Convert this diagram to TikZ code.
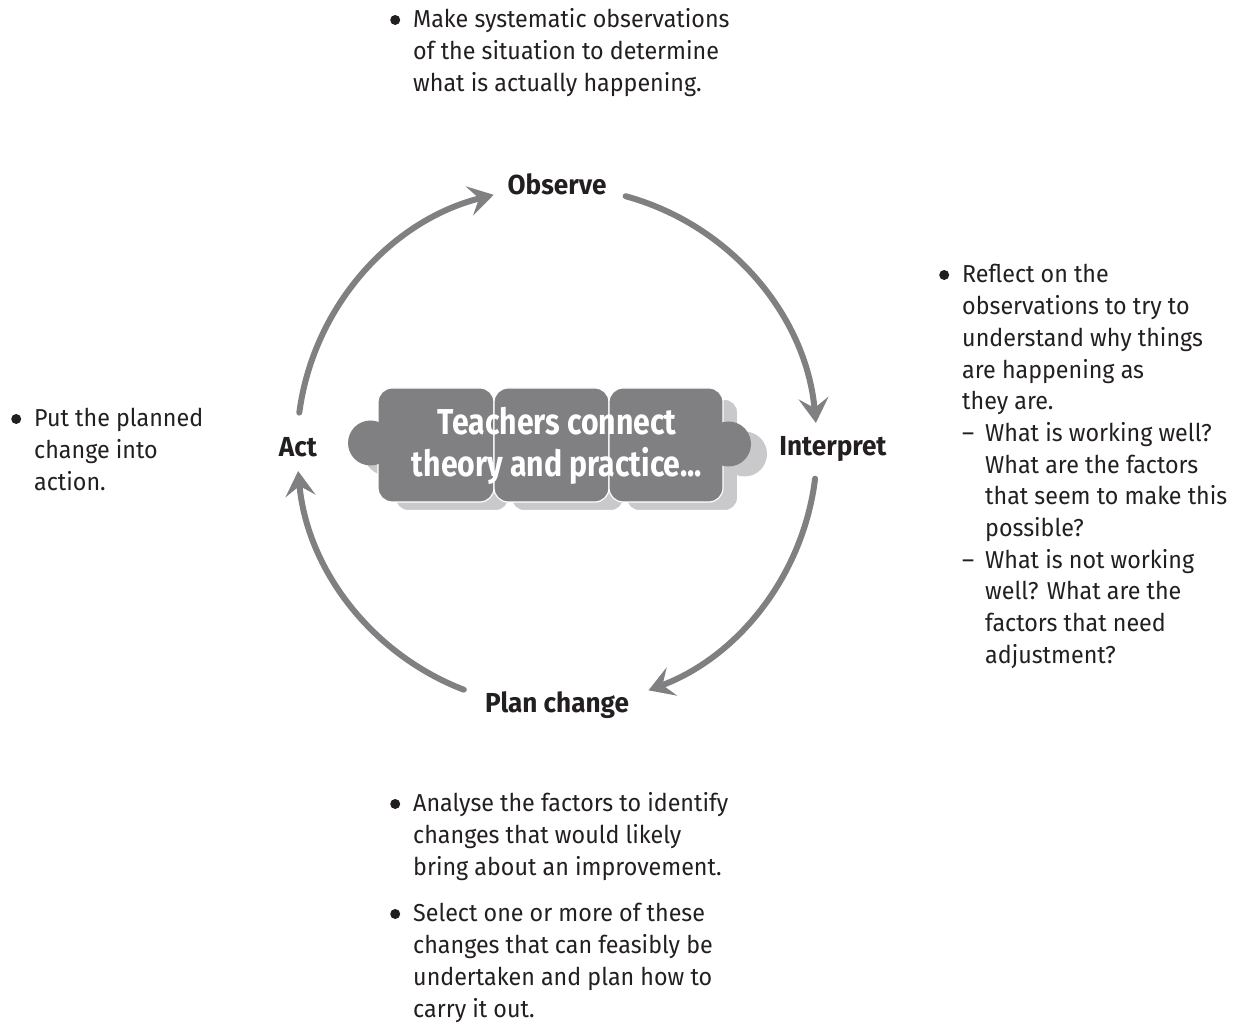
\documentclass[tikz,border=0pt]{standalone}
\usepackage{fontspec}
\setmainfont{Fira Sans}[FakeStretch=0.95]
\newfontfamily\mottofont{Fira Sans}[FakeStretch=0.84]
\usetikzlibrary{arrows.meta}

\definecolor{cyclegray}{RGB}{128,128,131}
\definecolor{shadowgray}{RGB}{201,201,203}
\definecolor{inkblack}{RGB}{35,31,32}

% round bullet hanging to the left of the text column, and a dash item
\newcommand\bul{\leavevmode\llap{\tikz[baseline=0pt]\fill[inkblack] (0pt,8pt) circle (5pt);\hspace{13pt}}}
\newcommand\dashitem{\makebox[23pt][l]{–}}
\newcommand\subind{\hspace*{23pt}}

\begin{document}
\begin{tikzpicture}[x=1pt,y=1pt,
  cyclearrow/.style={draw=cyclegray, line width=6pt, line cap=round,
    -{Stealth[length=25pt,width=30pt,inset=10pt]}},
  phase/.style={font=\fontsize{27.5}{30}\selectfont\bfseries, text=inkblack,
    inner sep=0pt, anchor=base},
  note/.style={font=\fontsize{24.5}{31.7}\selectfont, text=inkblack,
    inner sep=0pt, anchor=base west},
  piece/.style={fill=cyclegray, draw=white, line width=1.2pt, rounded corners=14pt},
  pieceshadow/.style={fill=shadowgray, draw=white, line width=4pt, rounded corners=14pt}]

\useasboundingbox (0,0) rectangle (1250,1024);
\coordinate (c) at (557,577);

% puzzle shadow
\path[pieceshadow] (394,512) rectangle (510,626);
\path[pieceshadow] (510,512) rectangle (625,626);
\path[pieceshadow] (625,512) rectangle (739,626);
\fill[shadowgray] (386.5,571) circle (22.5);
\fill[shadowgray] (744.5,570) circle (22.5);

% puzzle pieces
\path[piece] (378,522) rectangle (494,636);
\path[piece] (494,522) rectangle (609,636);
\path[piece] (609,522) rectangle (723,636);
\fill[cyclegray] (370.5,581) circle (22.5);
\fill[cyclegray] (728.5,580) circle (22.5);

\node[text=white, inner sep=0pt, anchor=base] (motto) at (557,589)
  {\parbox[t]{360pt}{\centering\mottofont\bfseries\fontsize{36}{42}\selectfont
   Teachers connect\\ theory and practice...}};

% phases of the cycle
\node[phase] (observe) at (557,829) {Observe};
\node[phase] (interpret) at (833,568) {Interpret};
\node[phase] (plan) at (557,311) {Plan change};
\node[phase] (act) at (298,567) {Act};

% cycle arrows
\draw[cyclearrow] ([shift={(74.7:260)}]c) arc[start angle=74.7, end angle=5.3, radius=260];
\draw[cyclearrow] ([shift={(-7:260)}]c) arc[start angle=-7, end angle=-69.4, radius=260];
\draw[cyclearrow] ([shift={(-111:260)}]c) arc[start angle=-111, end angle=-174.7, radius=260];
\draw[cyclearrow] ([shift={(172.4:260)}]c) arc[start angle=172.4, end angle=104.1, radius=260];

% notes for each phase
\node[note] (observenote) at (413,996) {\parbox[t]{400pt}{\raggedright
  \bul Make systematic observations\\
  of the situation to determine\\
  what is actually happening.}};

\node[note] (interpretnote) at (962,741) {\parbox[t]{400pt}{\raggedright
  \bul Reflect on the\\
  observations to try to\\
  understand why things\\
  are happening as\\
  they are.\\
  \dashitem What is working well?\\
  \subind What are the factors\\
  \subind that seem to make this\\
  \subind possible?\\
  \dashitem What is not working\\
  \subind well? What are the\\
  \subind factors that need\\
  \subind adjustment?}};

\node[note] (actnote) at (34,597) {\parbox[t]{300pt}{\raggedright
  \bul Put the planned\\
  change into\\
  action.}};

\node[note] (plannote) at (413,212) {\parbox[t]{400pt}{\raggedright
  \bul Analyse the factors to identify\\
  changes that would likely\\
  bring about an improvement.}};

\node[note] (selectnote) at (413,102) {\parbox[t]{400pt}{\raggedright
  \bul Select one or more of these\\
  changes that can feasibly be\\
  undertaken and plan how to\\
  carry it out.}};
\end{tikzpicture}
\end{document}
